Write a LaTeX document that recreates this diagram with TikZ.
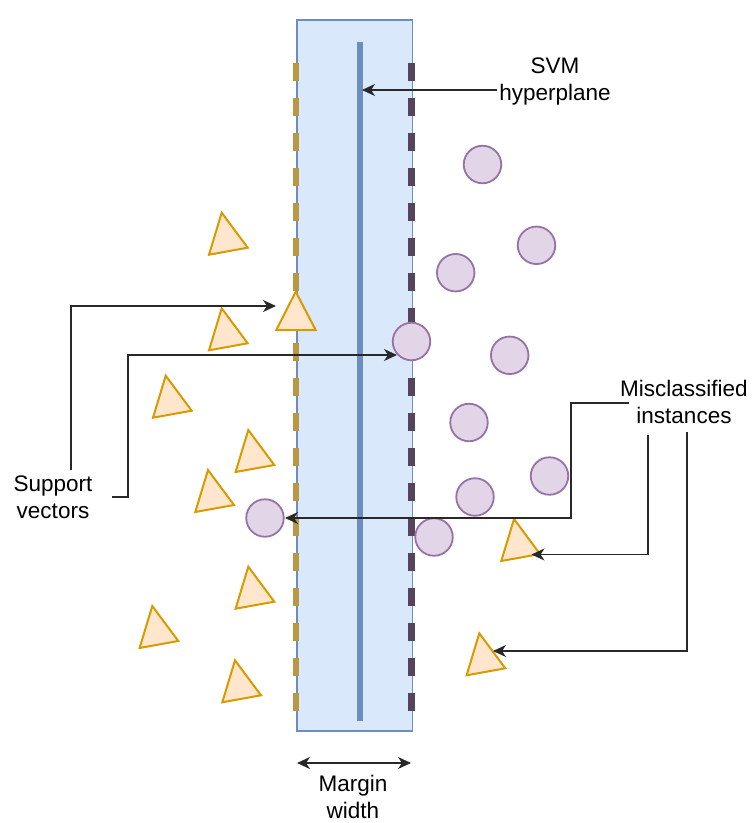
\documentclass[tikz,border=0pt]{standalone}
\usepackage{fontspec}
\setmainfont{Liberation Sans}
\usetikzlibrary{arrows.meta}
\definecolor{rfill}{HTML}{DAE8FC}
\definecolor{rline}{HTML}{6C8EBF}
\definecolor{cfill}{HTML}{E1D5E7}
\definecolor{cline}{HTML}{9673A6}
\definecolor{tfill}{HTML}{FFE6CC}
\definecolor{tline}{HTML}{D79B00}
\definecolor{dashL}{RGB}{185,152,68}
\definecolor{dashR}{RGB}{86,68,93}
\definecolor{conn}{RGB}{40,40,40}
\tikzset{
  pt/.style={circle,draw=cline,fill=cfill,line width=1.8pt,minimum size=37.5pt,inner sep=0pt},
  tri/.style={draw=tline,fill=tfill,line width=2pt,line join=miter},
  lbl/.style={align=center,font=\fontsize{22.5}{27}\selectfont,inner sep=1pt},
  conline/.style={draw=conn,line width=1.2pt,-{Stealth[length=13pt,width=12pt,inset=4pt]}},
  marg/.style={line width=6.5pt,dash pattern=on 18pt off 17pt}
}
\newcommand{\rtri}[2]{\path[tri] (#1,#2) -- ++(26,35) -- ++(-38.7,7) -- cycle;}
\begin{document}
\begin{tikzpicture}[x=1pt,y=-1pt]
\useasboundingbox (0,0) rectangle (752,823);
% margin band
\node[draw=rline,fill=rfill,line width=1.6pt,minimum width=115.5pt,minimum height=711pt,inner sep=0pt,anchor=north west] (band) at (296,19) {};
\coordinate (hTop) at (359.5,42);
\coordinate (hBot) at (359.5,721);
\draw[rline,line width=6pt] (hTop) -- (hBot);
\coordinate (lTop) at (296,63);
\coordinate (lBot) at (296,712);
\coordinate (rTop) at (411.5,63);
\coordinate (rBot) at (411.5,712);
\draw[marg,dashL] (lTop) -- (lBot);
\draw[marg,dashR] (rTop) -- (rBot);
% triangles
\rtri{221.7}{212.7}
\rtri{221.7}{308.3}
\rtri{165.7}{375.7}
\rtri{248.3}{430}
\rtri{208}{470}
\rtri{248.3}{566.7}
\rtri{152.3}{606}
\rtri{235}{660.3}
\rtri{514}{519}
\rtri{479.3}{633.3}
\path[tri] (295.7,291.7) -- (315.7,330) -- (276.3,330) -- cycle;
% circles
\node[pt] (c1) at (482.5,164.5) {};
\node[pt] (c2) at (536.5,245.3) {};
\node[pt] (c3) at (455.7,272.7) {};
\node[pt] (c4) at (411.5,341.5) {};
\node[pt] (c5) at (509.7,355.3) {};
\node[pt] (c6) at (469,422.5) {};
\node[pt] (c7) at (549.5,476) {};
\node[pt] (c8) at (475,497) {};
\node[pt] (c9) at (434,537) {};
\node[pt] (c10) at (265,518) {};
% labels
\node[lbl] (svm) at (555,81) {SVM\\hyperplane};
\node[lbl] (sv) at (53,497) {Support\\vectors};
\node[lbl] (mis) at (684,402) {Misclassified\\instances};
\node[lbl] (mw) at (353,797) {Margin\\width};
% connector endpoints
\coordinate (svmS) at (497,90);
\coordinate (svmT) at (362,90);
\coordinate (sv1S) at (71,470);
\coordinate (sv1a) at (71,306);
\coordinate (sv1T) at (276,306);
\coordinate (sv2S) at (112,497);
\coordinate (sv2a) at (128,497);
\coordinate (sv2b) at (128,355);
\coordinate (sv2T) at (397,355);
\coordinate (m1S) at (629,403);
\coordinate (m1a) at (571,403);
\coordinate (m1b) at (571,518);
\coordinate (m1T) at (285,518);
\coordinate (m2S) at (648,435);
\coordinate (m2a) at (648,554.5);
\coordinate (m2T) at (531.5,554.5);
\coordinate (m3S) at (687,432);
\coordinate (m3a) at (687,651);
\coordinate (m3T) at (493,651);
\coordinate (mwL) at (297,763);
\coordinate (mwR) at (411,763);
% connectors
\draw[conline] (svmS) -- (svmT);
\draw[conline] (sv1S) -- (sv1a) -- (sv1T);
\draw[conline] (sv2S) -- (sv2a) -- (sv2b) -- (sv2T);
\draw[conline] (m1S) -- (m1a) -- (m1b) -- (m1T);
\draw[conline] (m2S) -- (m2a) -- (m2T);
\draw[conline] (m3S) -- (m3a) -- (m3T);
\draw[conline,{Stealth[length=13pt,width=12pt,inset=4pt]}-{Stealth[length=13pt,width=12pt,inset=4pt]}] (mwL) -- (mwR);
\end{tikzpicture}
\end{document}
